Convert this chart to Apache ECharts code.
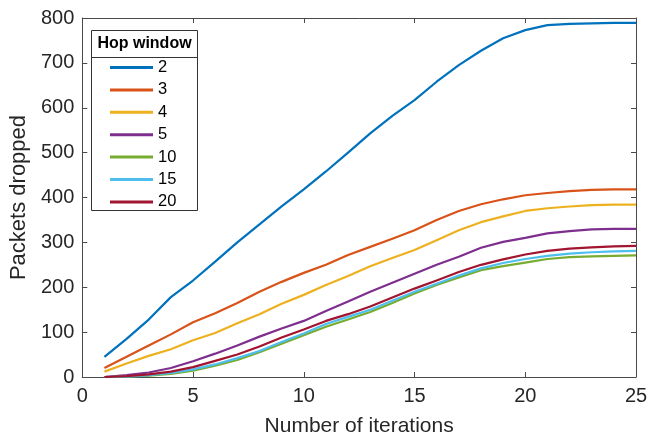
<!DOCTYPE html>
<html>
<head>
<meta charset="utf-8">
<script src="https://cdn.jsdelivr.net/npm/echarts@6/dist/echarts.min.js"></script>
<style>html,body{margin:0;padding:0;background:#fff;}#c{width:657px;height:442px;}</style>
</head>
<body>
<div id="c"></div>
<script>
var iterations = [1,2,3,4,5,6,7,8,9,10,11,12,13,14,15,16,17,18,19,20,21,22,23,24,25];
var seriesNames = ['2','3','4','5','10','15','20'];
var hop2  = [45,85,128,178,215,257,300,340,380,418,458,500,543,582,617,658,695,727,755,773,784,787,788,789,789];
var hop3  = [20,45,70,95,122,142,165,190,212,232,250,272,290,308,327,350,370,385,396,405,410,414,417,418,418];
var hop4  = [12,30,47,62,82,98,120,140,163,183,205,225,247,265,283,305,327,345,358,370,376,380,383,384,384];
var hop5  = [0,4,10,20,35,52,70,90,108,125,147,168,190,210,230,250,268,288,301,310,320,325,329,330,330];
var hop10 = [0,1,3,7,14,25,38,55,74,93,112,128,145,165,186,205,222,238,247,255,263,267,269,270,271];
var hop15 = [0,1,4,9,17,28,42,58,78,97,118,134,150,170,190,208,226,242,254,263,270,275,278,280,281];
var hop20 = [0,2,6,12,22,36,50,68,88,106,125,140,157,177,197,215,234,250,262,273,281,286,289,291,292];
var allValues = [hop2,hop3,hop4,hop5,hop10,hop15,hop20];
var colors = ['#0072BD','#D95319','#EDB120','#7E2F8E','#77AC30','#4DBEEE','#A2142F'];
var xTicks = [0,5,10,15,20,25];
var yTicks = [0,100,200,300,400,500,600,700,800];

var font = '"Liberation Sans", Arial, Helvetica, sans-serif';
var axisColor = '#4a4a4a';
var textColor = '#262626';

var series = seriesNames.map(function(n, i){
  return {
    name: n, type: 'line', symbol: 'none', smooth: false,
    data: iterations.map(function(x, j){ return [x, allValues[i][j]]; }),
    lineStyle: {color: colors[i], width: 2.2},
    itemStyle: {color: colors[i]},
    z: 3
  };
});

var chart = echarts.init(document.getElementById('c'), null, {renderer: 'canvas'});
chart.setOption({
  animation: false,
  backgroundColor: '#fff',
  grid: {left: 78, right: 21, top: 18, bottom: 60, containLabel: false},
  xAxis: [{
    type: 'value', min: xTicks[0], max: xTicks[xTicks.length-1], interval: 5,
    name: 'Number of iterations', nameLocation: 'middle', nameGap: 39,
    nameTextStyle: {fontFamily: font, fontSize: 21, color: textColor},
    axisLine: {show: true, lineStyle: {color: axisColor, width: 1}},
    axisTick: {show: true, inside: true, length: 5, lineStyle: {color: axisColor}},
    axisLabel: {fontFamily: font, fontSize: 20, color: textColor, margin: 9},
    splitLine: {show: false}
  },{
    type: 'value', position: 'top', min: xTicks[0], max: xTicks[xTicks.length-1], interval: 5,
    axisLine: {show: true, onZero: false, lineStyle: {color: axisColor, width: 1}},
    axisTick: {show: true, inside: true, length: 5, lineStyle: {color: axisColor}},
    axisLabel: {show: false}, splitLine: {show: false}
  }],
  yAxis: [{
    type: 'value', min: yTicks[0], max: yTicks[yTicks.length-1], interval: 100,
    name: 'Packets dropped', nameLocation: 'middle', nameGap: 44, nameRotate: 90,
    nameTextStyle: {fontFamily: font, fontSize: 22, color: textColor},
    axisLine: {show: true, lineStyle: {color: axisColor, width: 1}},
    axisTick: {show: true, inside: true, length: 5, lineStyle: {color: axisColor}},
    axisLabel: {fontFamily: font, fontSize: 20, color: textColor, margin: 8},
    splitLine: {show: false}
  },{
    type: 'value', position: 'right', min: yTicks[0], max: yTicks[yTicks.length-1], interval: 100,
    axisLine: {show: true, onZero: false, lineStyle: {color: axisColor, width: 1}},
    axisTick: {show: true, inside: true, length: 5, lineStyle: {color: axisColor}},
    axisLabel: {show: false}, splitLine: {show: false}
  }],
  legend: {
    data: seriesNames,
    orient: 'vertical', left: 110, top: 59, padding: 0,
    itemWidth: 43, itemHeight: 3, itemGap: 5.4, icon: 'rect',
    textStyle: {fontFamily: font, fontSize: 16.5, color: '#000', lineHeight: 16},
    z: 10
  },
  graphic: [
    {type: 'rect', shape: {x: 91.5, y: 30.5, width: 106, height: 180}, style: {fill: '#fff', stroke: '#333', lineWidth: 1}, z: 5},
    {type: 'line', shape: {x1: 91.5, y1: 57.5, x2: 197.5, y2: 57.5}, style: {stroke: '#333', lineWidth: 1}, z: 6},
    {type: 'text', x: 144.5, y: 44, style: {text: 'Hop window', fontFamily: font, fontSize: 16, fontWeight: 'bold', fill: '#000', textAlign: 'center', textVerticalAlign: 'middle'}, z: 6},
    {type: 'text', x: 328, y: -5, style: {text: '0.25', fontFamily: font, fontSize: 19, fill: textColor, textAlign: 'center', textVerticalAlign: 'middle'}, z: 6}
  ],
  series: series
});
</script>
</body>
</html>
